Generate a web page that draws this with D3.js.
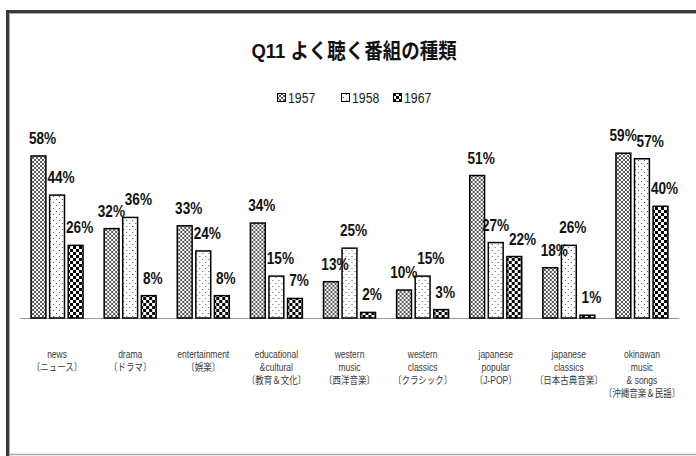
<!DOCTYPE html>
<html>
<head>
  <meta charset="utf-8">
  <title>Q11</title>
  <script src="https://cdn.jsdelivr.net/npm/d3@7"></script>
  <style>
    body { margin: 0; background: #fff; }
    svg { display: block; }
  </style>
</head>
<body>
<svg width="696" height="456"></svg>
<script>
const categories = ['news', 'drama', 'entertainment', 'educational', 'western music', 'western classics',
  'japanese popular', 'japanese classics', 'okinawan'];
const catLines = [
  ['news', '〔ニュース〕'],
  ['drama', '〔ドラマ〕'],
  ['entertainment', '〔娯楽〕'],
  ['educational', '&cultural', '〔教育＆文化〕'],
  ['western', 'music', '〔西洋音楽〕'],
  ['western', 'classics', '〔クラシック〕'],
  ['japanese', 'popular', '〔J-POP〕'],
  ['japanese', 'classics', '〔日本古典音楽〕'],
  ['okinawan', 'music', '& songs', '〔沖縄音楽＆民謡〕']
];
const years = ['1957', '1958', '1967'];
const v1957 = [58, 32, 33, 34, 13, 10, 51, 18, 59];
const v1958 = [44, 36, 24, 15, 25, 15, 27, 26, 57];
const v1967 = [26, 8, 8, 7, 2, 3, 22, 1, 40];
const series = [v1957, v1958, v1967];

const svg = d3.select('svg');
const fam = '"Liberation Sans", "Noto Sans CJK JP", sans-serif';

// squeezed text, the original uses a narrow face
function ntext(parent, x, y, sx) {
  return parent.append('g').attr('transform', `translate(${x},${y}) scale(${sx},1)`)
    .append('text').attr('font-family', fam);
}

// patterns
const defs = svg.append('defs');
const p1 = defs.append('pattern').attr('id', 'pat0').attr('patternUnits', 'userSpaceOnUse')
  .attr('width', 4).attr('height', 4);
p1.append('rect').attr('width', 4).attr('height', 4).attr('fill', '#fff');
p1.append('path').attr('d', 'M0,0L4,4M4,0L0,4').attr('stroke', '#444').attr('stroke-width', 0.9);
const p2 = defs.append('pattern').attr('id', 'pat1').attr('patternUnits', 'userSpaceOnUse')
  .attr('width', 6).attr('height', 6);
p2.append('rect').attr('width', 6).attr('height', 6).attr('fill', '#fff');
p2.append('rect').attr('x', 1).attr('y', 1).attr('width', 1).attr('height', 1).attr('fill', '#555');
p2.append('rect').attr('x', 4).attr('y', 4).attr('width', 1).attr('height', 1).attr('fill', '#555');
const p3 = defs.append('pattern').attr('id', 'pat2').attr('patternUnits', 'userSpaceOnUse')
  .attr('width', 6).attr('height', 6);
p3.append('rect').attr('width', 6).attr('height', 6).attr('fill', '#fff');
p3.append('rect').attr('width', 3).attr('height', 3).attr('fill', '#000');
p3.append('rect').attr('x', 3).attr('y', 3).attr('width', 3).attr('height', 3).attr('fill', '#000');

// frame
svg.append('path').attr('d', 'M7.5,456V11.5H696').attr('fill', 'none').attr('stroke', '#3a3a3a').attr('stroke-width', 3);
svg.append('path').attr('d', 'M9.5,456V13.5H696').attr('fill', 'none').attr('stroke', '#aaa').attr('stroke-width', 1);
svg.append('line').attr('x1', 9).attr('x2', 696).attr('y1', 454.5).attr('y2', 454.5)
  .attr('stroke', '#aaa').attr('stroke-width', 1.5);

const x0 = d3.scaleBand().domain(categories).range([20.5, 678.5]);
const x1 = d3.scaleBand().domain(years).range([0, 52]).paddingInner(0.2);
const y = d3.scaleLinear().domain([0, 60]).range([318, 318 - 167.6]);
const off = (x0.bandwidth() - 52) / 2;

// title
ntext(svg, 354, 58, 0.88).attr('text-anchor', 'middle')
  .attr('font-size', 21).attr('font-weight', 'bold').attr('fill', '#111').text('Q11 よく聴く番組の種類');

// legend
const lgX = [277, 341, 393];
years.forEach((yr, i) => {
  svg.append('rect').attr('x', lgX[i] + 0.5).attr('y', 93.5).attr('width', 8).attr('height', 8)
    .attr('fill', `url(#pat${i})`).attr('stroke', '#000');
  ntext(svg, lgX[i] + 11, 103, 0.82).attr('font-size', 15).attr('fill', '#222').text(yr);
});

// baseline
svg.append('line').attr('x1', 20).attr('x2', 679).attr('y1', y(0) + 0.5).attr('y2', y(0) + 0.5)
  .attr('stroke', '#999').attr('stroke-width', 1);

// bars
const groups = svg.append('g').selectAll('g').data(categories).join('g')
  .attr('transform', d => `translate(${x0(d) + off},0)`);
years.forEach((yr, si) => {
  groups.append('rect')
    .attr('x', x1(yr)).attr('y', (d, ci) => y(series[si][ci]))
    .attr('width', x1.bandwidth()).attr('height', (d, ci) => y(0) - y(series[si][ci]))
    .attr('fill', `url(#pat${si})`).attr('stroke', '#000').attr('stroke-width', 1.5);
});
groups.each(function (d, ci) {
  const g = d3.select(this);
  // label spots, pushed apart when neighbours collide
  const lab = years.map((yr, si) => {
    const v = series[si][ci];
    return { v, x: x1(yr) + x1.bandwidth() / 2 + 4, y: y(v) - 12, w: 13 * (v >= 10 ? 2 : 1) * 0.8 * 0.556 * 1.3 + 11 };
  });
  for (let k = 0; k < 3; k++) {
    for (let i = 0; i < lab.length - 1; i++) {
      const a = lab[i], b = lab[i + 1];
      const need = (a.w + b.w) / 2 + 1;
      if (Math.abs(a.y - b.y) < 15 && b.x - a.x < need) {
        const push = (need - (b.x - a.x)) / 2;
        a.x -= push; b.x += push;
      }
    }
  }
  lab.forEach(l => {
    ntext(g, l.x, l.y, 0.8)
      .attr('text-anchor', 'middle').attr('font-weight', 'bold')
      .attr('font-size', 17).attr('fill', '#111').text(l.v + '%');
  });
  const t = ntext(g, 26, 0, 0.85).attr('text-anchor', 'middle')
    .attr('font-size', 10).attr('fill', '#3a3a3a');
  catLines[ci].forEach((ln, li) => {
    t.append('tspan').attr('x', 0).attr('y', 358 + li * 13).text(ln);
  });
});
</script>
</body>
</html>
